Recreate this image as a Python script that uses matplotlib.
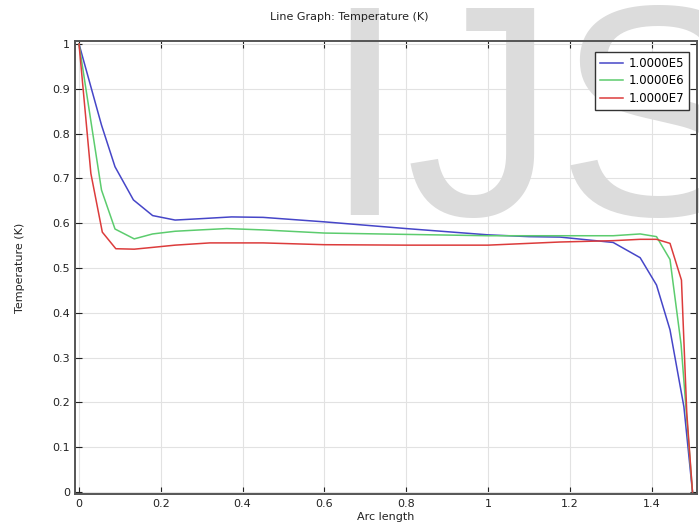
import matplotlib
matplotlib.use('Agg')
import matplotlib.pyplot as plt

# arc length / temperature samples
x_e5 = [0, 0.055, 0.088, 0.133, 0.18, 0.235, 0.296, 0.373, 0.45, 0.6, 0.8, 1.0, 1.1, 1.176, 1.306, 1.372, 1.412, 1.445, 1.479, 1.5]
t_e5 = [1.0, 0.819, 0.726, 0.652, 0.617, 0.607, 0.61, 0.614, 0.613, 0.603, 0.588, 0.574, 0.57, 0.569, 0.557, 0.523, 0.462, 0.362, 0.19, 0.0]

x_e6 = [0, 0.055, 0.088, 0.135, 0.18, 0.235, 0.296, 0.361, 0.45, 0.6, 0.8, 1.0, 1.176, 1.306, 1.372, 1.412, 1.445, 1.472, 1.5]
t_e6 = [1.0, 0.674, 0.587, 0.565, 0.576, 0.582, 0.585, 0.588, 0.585, 0.578, 0.575, 0.572, 0.572, 0.572, 0.576, 0.57, 0.519, 0.33, 0.0]

x_e7 = [0, 0.029, 0.057, 0.09, 0.135, 0.18, 0.235, 0.32, 0.45, 0.6, 0.8, 1.0, 1.176, 1.306, 1.372, 1.412, 1.445, 1.473, 1.486, 1.5]
t_e7 = [1.0, 0.711, 0.58, 0.543, 0.542, 0.546, 0.551, 0.556, 0.556, 0.552, 0.551, 0.551, 0.558, 0.561, 0.564, 0.564, 0.555, 0.473, 0.176, 0.0]

labels = ['1.0000E5', '1.0000E6', '1.0000E7']
colors = ['#4646c8', '#5ccc6e', '#dc3c3c']
x_ticks = [0, 0.2, 0.4, 0.6, 0.8, 1, 1.2, 1.4]
y_ticks = [0, 0.1, 0.2, 0.3, 0.4, 0.5, 0.6, 0.7, 0.8, 0.9, 1]

plt.rcParams['font.family'] = ['DejaVu Sans']
plt.rcParams['font.size'] = 8

fig = plt.figure(figsize=(6.99, 5.27), dpi=100)
ax = fig.add_axes([75/699, 1-494/527, (697-75)/699, (494-41)/527])

for xs, ts, lab, col in zip([x_e5, x_e6, x_e7], [t_e5, t_e6, t_e7], labels, colors):
    ax.plot(xs, ts, color=col, lw=1.1, label=lab, zorder=3)

ax.set_xlim(-0.0098, 1.511)
ax.set_ylim(-0.0045, 1.0067)
ax.set_xticks(x_ticks)
ax.set_xticklabels(['0', '0.2', '0.4', '0.6', '0.8', '1', '1.2', '1.4'])
ax.set_yticks(y_ticks)
ax.set_yticklabels(['0', '0.1', '0.2', '0.3', '0.4', '0.5', '0.6', '0.7', '0.8', '0.9', '1'])
ax.tick_params(direction='in', length=5, top=True, right=True, colors='#222222', labelcolor='#222222')
ax.grid(True, color='#e2e2e2', lw=0.8)
ax.set_axisbelow(True)
for s in ax.spines.values():
    s.set_color('#555555')
    s.set_linewidth(1.4)

ax.set_xlabel('Arc length', labelpad=2, color='#222222')
ax.set_ylabel('Temperature (K)', labelpad=20, color='#222222')
fig.text(0.5, 1-17/527, 'Line Graph: Temperature (K)', ha='center', va='center', color='#222222')

# watermark
ax.text(322/699, 1-215/527, 'IJS', transform=fig.transFigure, fontsize=217,
        family='Liberation Sans', color='#dcdcdc', ha='left', va='baseline',
        zorder=1.5, clip_on=False)

leg = ax.legend(loc='upper right', bbox_to_anchor=(689/699, 1-52/527),
                bbox_transform=fig.transFigure, borderaxespad=0, fancybox=False,
                framealpha=1, edgecolor='#333333', handlelength=2.0,
                handletextpad=0.45, labelspacing=0.4, fontsize=8.5,
                borderpad=0.4)
leg.get_frame().set_linewidth(1.0)
leg.set_zorder(5)

fig.savefig('out.png', dpi=100)
